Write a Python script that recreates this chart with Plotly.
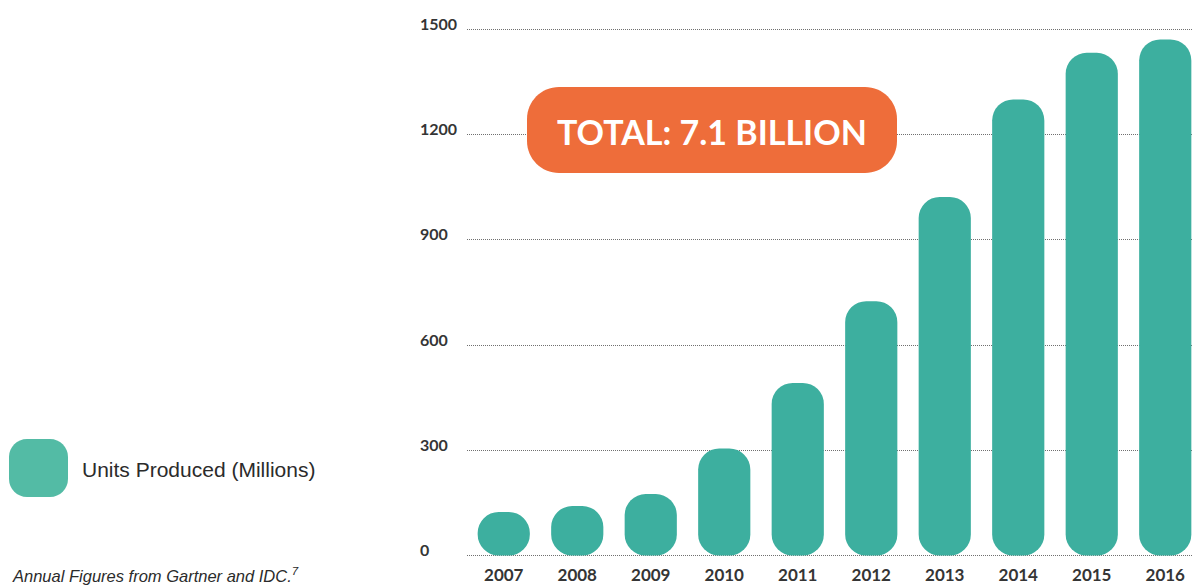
import plotly.graph_objects as go

years = ["2007", "2008", "2009", "2010", "2011", "2012", "2013", "2014", "2015", "2016"]
units = [124, 141, 175, 305, 492, 725, 1022, 1300, 1433, 1471]
y_ticks = [0, 300, 600, 900, 1200, 1500]
series_name = "Units Produced (Millions)"
badge_text = "TOTAL: 7.1 BILLION"
source_text = "Annual Figures from Gartner and IDC.<sup>7</sup>"

W, H = 1192, 585
ML, MR, MT, MB = 467, 0, 10, 28
PW, PH = W - ML - MR, H - MT - MB

BAR = "#3DAF9F"
SWATCH = "#53BBA5"
ORANGE = "#EE6D3A"
TXT = "#353535"
NUMFONT = "Lato"


def px(x):
    return (x - ML) / PW


def py(y):
    return (H - MB - y) / PH


def rrect(x0, y0, x1, y1, r):
    k = 0.5523 * r
    pts = []
    pts.append(f"M {px(x0 + r)} {py(y0)}")
    pts.append(f"L {px(x1 - r)} {py(y0)}")
    pts.append(f"C {px(x1 - r + k)} {py(y0)} {px(x1)} {py(y0 + r - k)} {px(x1)} {py(y0 + r)}")
    pts.append(f"L {px(x1)} {py(y1 - r)}")
    pts.append(f"C {px(x1)} {py(y1 - r + k)} {px(x1 - r + k)} {py(y1)} {px(x1 - r)} {py(y1)}")
    pts.append(f"L {px(x0 + r)} {py(y1)}")
    pts.append(f"C {px(x0 + r - k)} {py(y1)} {px(x0)} {py(y1 - r + k)} {px(x0)} {py(y1 - r)}")
    pts.append(f"L {px(x0)} {py(y0 + r)}")
    pts.append(f"C {px(x0)} {py(y0 + r - k)} {px(x0 + r - k)} {py(y0)} {px(x0 + r)} {py(y0)} Z")
    return " ".join(pts)


fig = go.Figure()
fig.add_trace(go.Bar(
    x=years, y=units, base=[0] * len(units),
    marker=dict(color=BAR, line=dict(width=0), cornerradius=21),
    showlegend=False, hoverinfo="skip",
))

fig.update_layout(
    width=W, height=H,
    margin=dict(l=ML, r=MR, t=MT, b=MB, pad=0, autoexpand=False),
    paper_bgcolor="white", plot_bgcolor="white",
    barmode="overlay", bargap=0.29,
    xaxis=dict(
        type="category", range=[-0.5, 9.364], showgrid=False, zeroline=False,
        showline=False, ticks="", ticklabelstandoff=6, automargin=False,
        tickfont=dict(family=NUMFONT, size=17, color=TXT, weight="bold"),
    ),
    yaxis=dict(
        range=[-4.3, 1555], tickvals=y_ticks, showticklabels=False, automargin=False,
        showgrid=True, gridcolor="#707070", gridwidth=1, griddash="1px,1px",
        zeroline=False, showline=False, ticks="",
    ),
    font=dict(family="Liberation Sans"),
)

annotations = []
for t in y_ticks:
    annotations.append(dict(
        x=px(418), xref="paper", xanchor="left", y=t, yref="y", yanchor="middle",
        yshift=6, text=str(t), showarrow=False,
        font=dict(family=NUMFONT, size=16, color=TXT, weight="bold"),
    ))

shapes = []
shapes.append(dict(type="path", xref="paper", yref="paper",
                   path=rrect(527, 87, 897, 173, 32),
                   fillcolor=ORANGE, line=dict(width=0), layer="above"))
annotations.append(dict(
    x=px(712), y=py(131), xref="paper", yref="paper", xanchor="center", yanchor="middle",
    text=badge_text, showarrow=False,
    font=dict(family=NUMFONT, size=34, color="white", weight="bold"),
))
shapes.append(dict(type="path", xref="paper", yref="paper",
                   path=rrect(9, 439, 68, 497, 18),
                   fillcolor=SWATCH, line=dict(width=0), layer="above"))
annotations.append(dict(
    x=px(80), y=py(469), xref="paper", yref="paper", xanchor="left", yanchor="middle",
    text=series_name, showarrow=False,
    font=dict(family="Liberation Sans", size=21, color="#2b2b2b"),
))
annotations.append(dict(
    x=px(10), y=py(575), xref="paper", yref="paper", xanchor="left", yanchor="middle",
    text="<i>" + source_text + "</i>", showarrow=False,
    font=dict(family="Liberation Sans", size=16.5, color="#2b2b2b"),
))

fig.update_layout(annotations=annotations, shapes=shapes)
fig.write_html("out.html")
